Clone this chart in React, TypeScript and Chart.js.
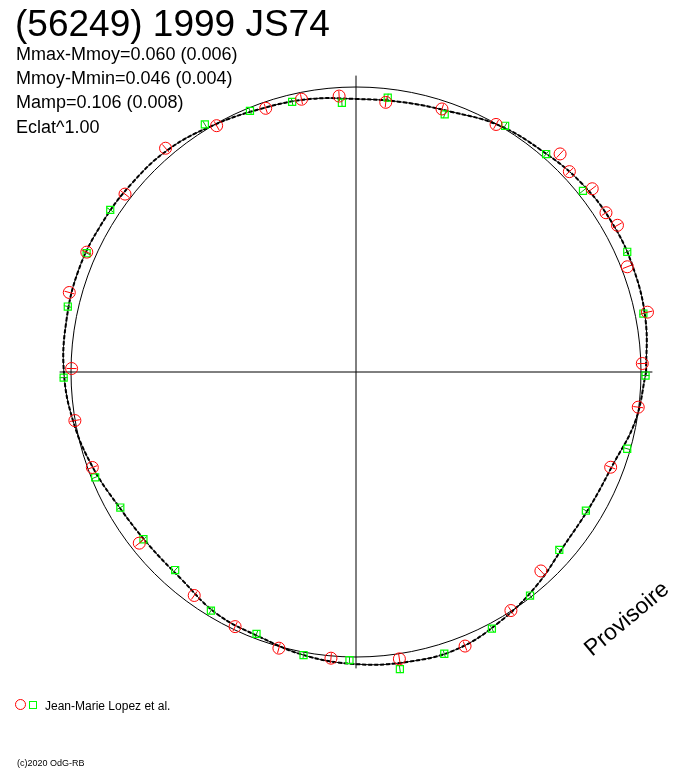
import React, { useEffect, useRef } from "react";
import { Chart, registerables } from "chart.js";

Chart.register(...registerables);

// ---- text ----
const titleText = "(56249) 1999 JS74";
const statLines = [
  "Mmax-Mmoy=0.060 (0.006)",
  "Mmoy-Mmin=0.046 (0.004)",
  "Mamp=0.106 (0.008)",
  "Eclat^1.00",
];
const legendText = "Jean-Marie Lopez et al.";
const copyrightText = "(c)2020 OdG-RB";
const watermarkText = "Provisoire";

// ---- composite light curve (polar: phase angle in degrees, relative radius) ----
const curvePhase = [
  0, 10, 20, 30, 40, 50, 60, 70, 80, 90, 100, 110, 120, 130, 140, 150, 160, 170,
  180, 190, 200, 210, 220, 230, 240, 250, 260, 270, 280, 290, 300, 310, 320, 330, 340, 350,
];
const curveRadius = [
  1.018, 1.032, 1.039, 1.04, 1.032, 1.014, 1.0, 0.972, 0.961, 0.958, 0.972, 0.982,
  1.0, 1.021, 1.028, 1.033, 1.037, 1.032, 1.025, 1.007, 0.982, 0.956, 0.947, 0.951,
  0.979, 0.989, 1.011, 1.025, 1.033, 1.035, 1.011, 0.982, 0.951, 0.947, 0.958, 0.995,
];

// ---- observations, series 1 (red circles) ----
const redPhase = [
  1.7, 11.6, 21.2, 29.3, 32.5, 37.8, 43.2, 46.9, 60.5, 71.9, 83.7, 93.5, 101.3, 108.9,
  119.5, 130.4, 142.4, 156.0, 164.5, 179.3, 189.8, 199.9, 218.3, 234.1, 244.6, 254.4,
  265.0, 278.6, 291.7, 303.0, 312.9, 339.5, 352.9,
];
const redRadius = [
  1.005, 1.044, 1.021, 1.052, 1.04, 1.049, 1.027, 1.048, 0.998, 0.971, 0.952, 0.97,
  0.976, 0.978, 0.993, 1.031, 1.023, 1.034, 1.044, 0.998, 1.001, 0.984, 0.969, 0.968,
  0.989, 1.006, 1.008, 1.018, 1.035, 0.998, 0.953, 0.954, 0.998,
];

// ---- observations, series 2 (green squares) ----
const greenPhase = [
  359.3, 11.5, 23.9, 38.6, 48.9, 58.8, 71.0, 83.4, 93.0, 103.3, 112.1, 121.4, 146.6,
  156.2, 167.2, 181.1, 202.0, 209.9, 218.2, 227.6, 238.7, 249.2, 259.5, 268.7, 278.4,
  287.4, 297.9, 307.9, 318.8, 328.9, 344.2,
];
const greenRadius = [
  1.016, 1.029, 1.041, 1.019, 1.015, 1.01, 0.956, 0.969, 0.946, 0.974, 0.989, 1.018,
  1.033, 1.033, 1.037, 1.026, 0.987, 0.954, 0.949, 0.941, 0.98, 0.983, 1.01, 1.011,
  1.054, 1.036, 1.019, 0.994, 0.948, 0.942, 0.989,
];

const referenceRadius = 1;
const axisExtent = 1.04;

const FONT = '"Liberation Sans", Arial, sans-serif';
const RED = "#ff0000";
const GREEN = "#00ff00";

function toXY(phases: number[], radii: number[]) {
  return phases.map((p, i) => ({
    x: radii[i] * Math.cos((p * Math.PI) / 180),
    y: radii[i] * Math.sin((p * Math.PI) / 180),
  }));
}

const overlayPlugin = {
  id: "overlay",
  beforeDatasetsDraw(chart: any) {
    const { ctx, scales } = chart;
    const cx = scales.x.getPixelForValue(0);
    const cy = scales.y.getPixelForValue(0);
    const r = scales.x.getPixelForValue(referenceRadius) - cx;
    ctx.save();
    ctx.strokeStyle = "#000";
    ctx.lineWidth = 1;
    ctx.beginPath();
    ctx.arc(cx, cy, r, 0, Math.PI * 2);
    ctx.stroke();
    ctx.restore();
  },
  afterDraw(chart: any) {
    const { ctx } = chart;
    ctx.save();
    ctx.fillStyle = "#000";
    ctx.textBaseline = "alphabetic";
    ctx.textAlign = "left";
    ctx.font = `37px ${FONT}`;
    ctx.fillText(titleText, 15, 36);
    ctx.font = `18px ${FONT}`;
    const baselines = [59.5, 83.5, 108, 132.5];
    statLines.forEach((t, i) => ctx.fillText(t, 16, baselines[i]));

    // legend
    ctx.strokeStyle = RED;
    ctx.lineWidth = 1;
    ctx.beginPath();
    ctx.arc(20.5, 704.5, 5, 0, Math.PI * 2);
    ctx.stroke();
    ctx.strokeStyle = GREEN;
    ctx.strokeRect(29.5, 701.5, 7, 7);
    ctx.font = `12px ${FONT}`;
    ctx.fillText(legendText, 45, 709.5);

    ctx.font = `9px ${FONT}`;
    ctx.fillText(copyrightText, 17, 766);

    // watermark
    ctx.translate(592, 657);
    ctx.rotate((-40 * Math.PI) / 180);
    ctx.font = `23px ${FONT}`;
    ctx.fillText(watermarkText, 0, 0);
    ctx.restore();
  },
};

export default function App() {
  const ref = useRef<HTMLCanvasElement | null>(null);

  useEffect(() => {
    if (!ref.current) return;
    const curvePts = toXY(curvePhase, curveRadius);
    curvePts.push({ ...curvePts[0] });
    const redPts = toXY(redPhase, redRadius);
    const greenPts = toXY(greenPhase, greenRadius);

    const unitPx = 285;
    const chart = new Chart(ref.current, {
      type: "scatter",
      data: {
        datasets: [
          {
            label: "red",
            data: redPts,
            pointStyle: "circle",
            pointRadius: 6,
            pointBorderColor: RED,
            pointBackgroundColor: "rgba(0,0,0,0)",
            pointBorderWidth: 1,
          },
          {
            label: "red-err",
            data: redPts,
            pointStyle: "line",
            pointRadius: 5,
            pointRotation: redPhase.map((p) => -p),
            pointBorderColor: RED,
            pointBorderWidth: 1,
          },
          {
            label: "green",
            data: greenPts,
            pointStyle: "rect",
            pointRadius: 5,
            pointBorderColor: GREEN,
            pointBackgroundColor: "rgba(0,0,0,0)",
            pointBorderWidth: 1.2,
          },
          {
            label: "green-err",
            data: greenPts,
            pointStyle: "line",
            pointRadius: 4,
            pointRotation: greenPhase.map((p) => -p),
            pointBorderColor: "#00aa00",
            pointBorderWidth: 1,
          },
          {
            label: "curve-band",
            data: curvePts,
            showLine: true,
            tension: 0.4,
            borderColor: "#000",
            borderWidth: 2,
            borderDash: [4, 2],
            pointRadius: 0,
          },
          {
            label: "curve",
            data: curvePts,
            showLine: true,
            tension: 0.4,
            borderColor: "#000",
            borderWidth: 1,
            pointRadius: 0,
          },
          {
            label: "xaxis",
            data: [
              { x: -axisExtent, y: 0 },
              { x: axisExtent, y: 0 },
            ],
            showLine: true,
            borderColor: "#000",
            borderWidth: 1,
            pointRadius: 0,
          },
          {
            label: "yaxis",
            data: [
              { x: 0, y: -axisExtent },
              { x: 0, y: axisExtent },
            ],
            showLine: true,
            borderColor: "#000",
            borderWidth: 1,
            pointRadius: 0,
          },
        ],
      },
      options: {
        responsive: false,
        animation: false,
        devicePixelRatio: 1,
        events: [],
        layout: { padding: 0, autoPadding: false },
        plugins: {
          legend: { display: false },
          tooltip: { enabled: false },
          title: { display: false },
        },
        scales: {
          x: {
            type: "linear",
            display: false,
            min: -356 / unitPx,
            max: 332 / unitPx,
          },
          y: {
            type: "linear",
            display: false,
            min: -396 / unitPx,
            max: 372 / unitPx,
          },
        },
      },
      plugins: [overlayPlugin],
    });
    return () => chart.destroy();
  }, []);

  return (
    <div style={{ position: "fixed", left: 0, top: 0, width: 688, height: 768, background: "#fff" }}>
      <canvas ref={ref} width={688} height={768} style={{ display: "block" }} />
    </div>
  );
}
